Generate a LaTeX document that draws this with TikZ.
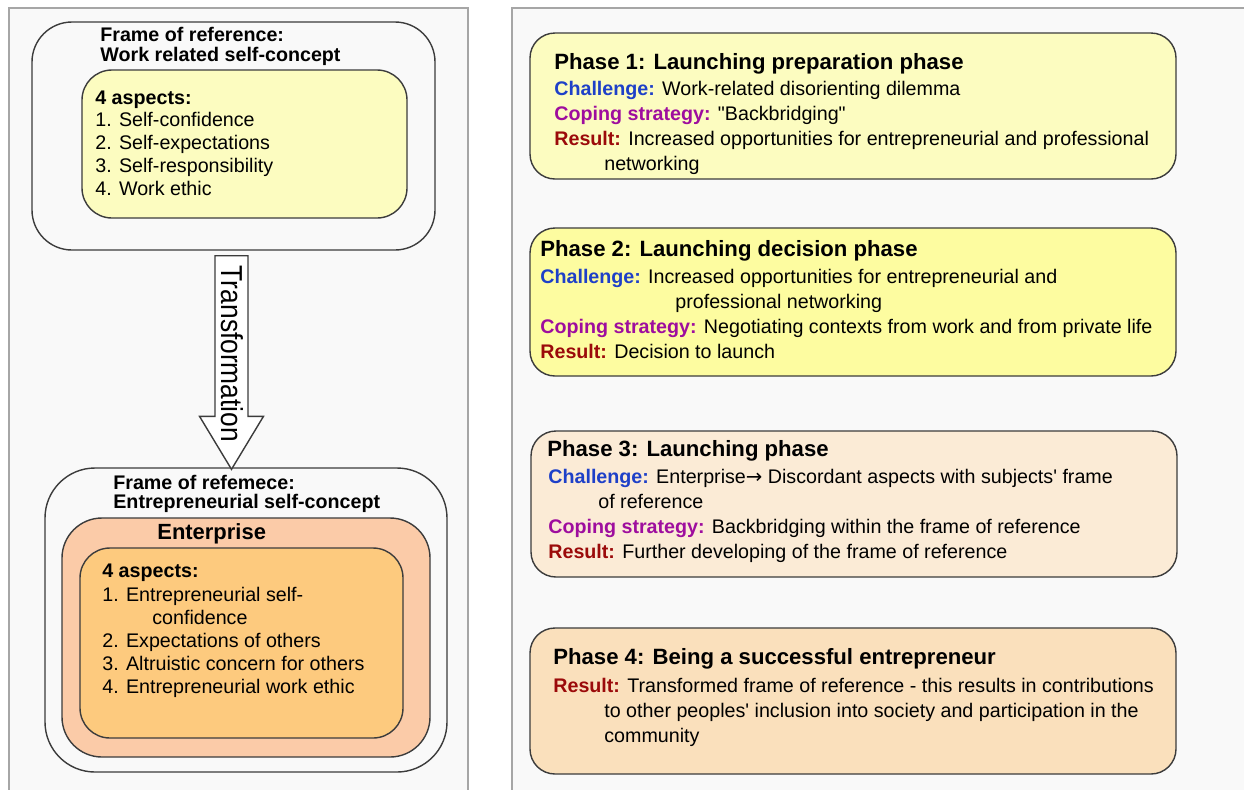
\documentclass[tikz,border=0pt]{standalone}
\usepackage{fontspec}
\setmainfont{Liberation Sans}
\newfontfamily\arrowfont{DejaVu Sans}
\usetikzlibrary{fit,calc}

\definecolor{panelgray}{HTML}{F9F9F9}
\definecolor{panelline}{HTML}{A6A6A6}
\definecolor{boxline}{HTML}{3C3C3C}
\definecolor{paleyellow}{HTML}{FCFCC0}
\definecolor{brightyellow}{HTML}{FDFCA0}
\definecolor{peach}{HTML}{FBCBA8}
\definecolor{orangebox}{HTML}{FDCA7E}
\definecolor{beige}{HTML}{FBEBD6}
\definecolor{tan}{HTML}{FAE0BC}
\definecolor{chalblue}{HTML}{1E40C8}
\definecolor{copepurple}{HTML}{9E0D9E}
\definecolor{resred}{HTML}{9B0A0A}

\newcommand{\lblchal}{{\bfseries\color{chalblue}Challenge:}}
\newcommand{\lblcope}{{\bfseries\color{copepurple}Coping strategy:}}
\newcommand{\lblres}{{\bfseries\color{resred}Result:}}

\begin{document}
\begin{tikzpicture}[x=0.02cm,y=-0.02cm,
    panel/.style={draw=panelline,fill=panelgray,line width=0.9pt},
    framebox/.style={draw=boxline,line width=0.8pt,inner sep=0pt},
    blockarrow/.style={draw=boxline,fill=white,line width=0.8pt,line join=miter},
    txt/.style={anchor=base west,inner sep=0pt,font=\fontsize{11.2}{13}\selectfont},
    hdr/.style={txt,font=\fontsize{11.2}{13}\selectfont\bfseries},
    phasehdr/.style={txt,font=\fontsize{12.6}{15}\selectfont\bfseries}]
  \useasboundingbox (0,0) rectangle (1244,789);
  \clip (0,0) rectangle (1244,789);
  % panels
  \draw[panel] (9,8) rectangle (468,820);
  \draw[panel] (512,8) rectangle (1260,820);

  % left: work related frame of reference
  \node[framebox,rounded corners=0.8cm,fit={(32,22) (435,250)}] (frameA) {};
  \node[framebox,rounded corners=0.6cm,fill=paleyellow,fit={(82,70) (407,218)}] (aspA) {};
  \node[hdr] (fa1) at (100,41) {Frame of reference:};
  \node[hdr] (fa2) at (100,61) {Work related self-concept};
  \node[hdr] (aa0) at (95,104) {4 aspects:};
  \node[txt] (aa1) at (95,126) {1. Self-confidence};
  \node[txt] (aa2) at (95,149) {2. Self-expectations};
  \node[txt] (aa3) at (95,172) {3. Self-responsibility};
  \node[txt] (aa4) at (95,195) {4. Work ethic};

  % left: entrepreneurial frame of reference
  \node[framebox,rounded corners=1cm,fit={(45,468) (447,772)}] (frameB) {};
  \node[framebox,rounded corners=0.8cm,fill=peach,fit={(62,518) (430,757)}] (entB) {};
  \node[framebox,rounded corners=0.6cm,fill=orangebox,fit={(80,548) (403,738)}] (aspB) {};
  \node[hdr] (fb1) at (113,489) {Frame of refemece:};
  \node[hdr] (fb2) at (113,508) {Entrepreneurial self-concept};
  \node[hdr,font=\fontsize{12.5}{15}\selectfont\bfseries] (ent) at (157,539) {Enterprise};
  \node[hdr] (ab0) at (102,577) {4 aspects:};
  \node[txt] (ab1) at (102,601) {1. Entrepreneurial self-};
  \node[txt] (ab1b) at (152,624) {confidence};
  \node[txt] (ab2) at (102,647) {2. Expectations of others};
  \node[txt] (ab3) at (102,670) {3. Altruistic concern for others};
  \node[txt] (ab4) at (102,693) {4. Entrepreneurial work ethic};

  % transformation arrow
  \coordinate (tail) at ($(frameA.south)+(-2,5)$);
  \coordinate (tip) at ($(tail |- frameB.north)+(0,2)$);
  \draw[blockarrow] ($(tail)+(-16.5,0)$) -- ($(tail)+(16.5,0)$) -- ($(tip)+(16.5,-53)$)
    -- ($(tip)+(32,-53)$) -- (tip) -- ($(tip)+(-32,-53)$) -- ($(tip)+(-16.5,-53)$) -- cycle;
  \node[rotate=-90,yscale=1.15,inner sep=0pt,font=\fontsize{15}{18}\selectfont] (trans)
    at ($(tail)!0.46!(tip)+(1,0)$) {Transformation};

  % right: phases
  \node[framebox,rounded corners=0.5cm,fill=paleyellow,fit={(530,33) (1176,179)}] (ph1) {};
  \node[phasehdr] (p1t) at (554,69) {Phase 1: Launching preparation phase};
  \node[txt] (p1c) at (554,95) {\lblchal{} Work-related disorienting dilemma};
  \node[txt] (p1s) at (554,120) {\lblcope{} \textquotedbl Backbridging\textquotedbl};
  \node[txt] (p1r) at (554,145) {\lblres{} Increased opportunities for entrepreneurial and professional};
  \node[txt] (p1r2) at (604,170) {networking};

  \node[framebox,rounded corners=0.5cm,fill=brightyellow,fit={(530,228) (1176,376)}] (ph2) {};
  \node[phasehdr] (p2t) at (540,256) {Phase 2: Launching decision phase};
  \node[txt] (p2c) at (540,283) {\lblchal{} Increased opportunities for entrepreneurial and};
  \node[txt] (p2c2) at (675,308) {professional networking};
  \node[txt] (p2s) at (540,333) {\lblcope{} Negotiating contexts from work and from private life};
  \node[txt] (p2r) at (540,358) {\lblres{} Decision to launch};

  \node[framebox,rounded corners=0.5cm,fill=beige,fit={(531,431) (1177,577)}] (ph3) {};
  \node[phasehdr] (p3t) at (547,456) {Phase 3: Launching phase};
  \node[txt] (p3c) at (548,483) {\lblchal{} Enterprise{\arrowfont →} Discordant aspects with subjects\textquotesingle{} frame};
  \node[txt] (p3c2) at (598,508) {of reference};
  \node[txt] (p3s) at (548,533) {\lblcope{} Backbridging within the frame of reference};
  \node[txt] (p3r) at (548,558) {\lblres{} Further developing of the frame of reference};

  \node[framebox,rounded corners=0.5cm,fill=tan,fit={(530,628) (1176,774)}] (ph4) {};
  \node[phasehdr] (p4t) at (553,664) {Phase 4: Being a successful entrepreneur};
  \node[txt] (p4r) at (553,692) {\lblres{} Transformed frame of reference - this results in contributions};
  \node[txt] (p4r2) at (604,717) {to other peoples\textquotesingle{} inclusion into society and participation in the};
  \node[txt] (p4r3) at (604,742) {community};
\end{tikzpicture}
\end{document}
